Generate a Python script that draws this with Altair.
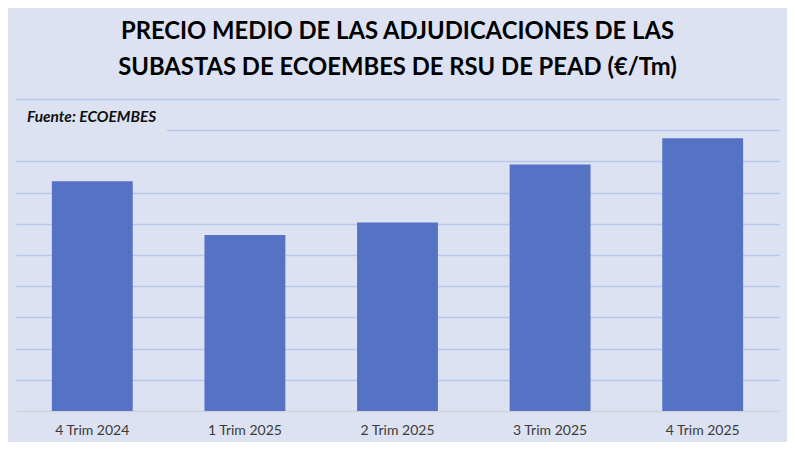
import altair as alt
import pandas as pd

categories = ["4 Trim 2024", "1 Trim 2025", "2 Trim 2025", "3 Trim 2025", "4 Trim 2025"]
values = [368, 282, 302, 395, 437]
grid_values = [50, 100, 150, 200, 250, 300, 350, 400, 450, 500]
title_lines = ["PRECIO MEDIO DE LAS ADJUDICACIONES DE LAS",
               "SUBASTAS DE ECOEMBES DE RSU DE PEAD (€/Tm)"]
source_text = "Fuente: ECOEMBES"

BG = "#dce2f2"
FONT = "Lato"

df = pd.DataFrame({"trim": categories, "precio": values})

bars = alt.Chart(df).mark_bar(color="#5572c4").encode(
    x=alt.X("trim:N", sort=categories, title=None,
            scale=alt.Scale(paddingInner=0.47, paddingOuter=0.235),
            axis=alt.Axis(labelAngle=0, ticks=False, tickSize=0, labelPadding=12,
                          labelFont=FONT, labelFontSize=14, labelColor="#3a3a3a",
                          domain=True, domainColor="#d0d3dc", domainWidth=1.5)),
    y=alt.Y("precio:Q", title=None,
            scale=alt.Scale(domain=[0, 500], nice=False),
            axis=alt.Axis(values=grid_values, labels=False, ticks=False, domain=False,
                          grid=True, gridColor="#b8c6ec", gridWidth=1.5)),
)

note_df = pd.DataFrame({"t": [source_text]})
note_bg = alt.Chart(note_df).mark_rect(color=BG).encode(
    x=alt.value(0), x2=alt.value(151), y=alt.value(8), y2=alt.value(38)
)
note = alt.Chart(note_df).mark_text(
    align="left", baseline="alphabetic", font=FONT, fontSize=15.5,
    fontStyle="italic", fontWeight="bold", color="#111111"
).encode(x=alt.value(11), y=alt.value(23), text="t:N")

chart = alt.layer(bars, note_bg, note).properties(
    width=763, height=312,
    autosize=alt.AutoSizeParams(type="none"),
    padding={"left": 8, "top": 91, "right": 8, "bottom": 31},
    background=BG,
    title=alt.TitleParams(text=title_lines, font=FONT, fontSize=23.8, fontWeight="bold",
                          color="#000000", lineHeight=36, anchor="middle", offset=19),
).configure_view(stroke=None)

chart.save("out.html", embed_options={"renderer": "svg", "actions": False})
